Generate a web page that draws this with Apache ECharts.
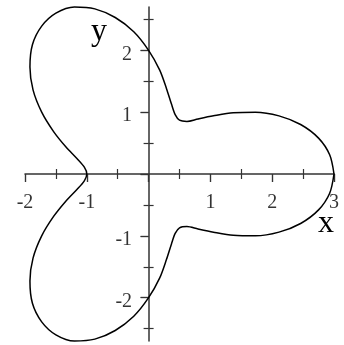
<!DOCTYPE html>
<html>
<head>
<meta charset="utf-8">
<script src="https://cdn.jsdelivr.net/npm/echarts@6/dist/echarts.min.js"></script>
<style>
  html, body { margin: 0; padding: 0; background: #fff; }
  #chart { width: 344px; height: 345px; }
</style>
</head>
<body>
<div id="chart"></div>
<script>
// curve points, going round once from (3, 0)
const curveX = [3.00, 2.93, 2.75, 2.46, 2.11, 1.73, 1.37, 1.05, 0.80, 0.62, 0.50, 0.43, 0.37, 0.29, 0.18, 0.00,
  -0.24, -0.54, -0.87, -1.20, -1.50, -1.73, -1.88, -1.92, -1.87, -1.73, -1.54, -1.34, -1.16, -1.04, -1.00,
  -1.04, -1.16, -1.34, -1.54, -1.73, -1.87, -1.92, -1.88, -1.73, -1.50, -1.20, -0.87, -0.54, -0.24, 0.00,
  0.18, 0.29, 0.37, 0.43, 0.50, 0.62, 0.80, 1.05, 1.37, 1.73, 2.11, 2.46, 2.75, 2.93, 3.00]
const curveY = [0.00, 0.31, 0.58, 0.80, 0.94, 1.00, 0.99, 0.94, 0.89, 0.85, 0.87, 0.96, 1.13, 1.38, 1.68, 2.00,
  2.30, 2.53, 2.67, 2.70, 2.60, 2.39, 2.09, 1.73, 1.36, 1.00, 0.69, 0.44, 0.25, 0.11, 0.00,
  -0.11, -0.25, -0.44, -0.69, -1.00, -1.36, -1.73, -2.09, -2.39, -2.60, -2.70, -2.67, -2.53, -2.30, -2.00,
  -1.68, -1.38, -1.13, -0.96, -0.87, -0.85, -0.89, -0.94, -0.99, -1.00, -0.94, -0.80, -0.58, -0.31, 0.00]

const xMajorTicks = [-2, -1, 0, 1, 2, 3]
const xMinorTicks = [-1.5, -0.5, 0.5, 1.5, 2.5]
const xTickLabels = [-2, -1, 1, 2, 3]
const yMajorTicks = [-2, -1, 0, 1, 2]
const yMinorTicks = [-2.5, -1.5, -0.5, 0.5, 1.5, 2.5]
const yTickLabels = [-2, -1, 1, 2]

const axisColor = '#333'
const labelFont = 'Liberation Serif'

// one axis per tick kind and side, so the ticks cross the line
function makeAxis(min, max, ticks, len, inside, showLine) {
  return {
    type: 'value',
    min: min,
    max: max,
    axisLine: {
      show: showLine,
      onZero: true,
      onZeroAxisIndex: 0,
      lineStyle: { color: axisColor, width: 1.5 },
    },
    axisTick: {
      show: true,
      inside: inside,
      length: len,
      customValues: ticks,
      lineStyle: { color: axisColor, width: 1.2 },
    },
    axisLabel: { show: false },
    splitLine: { show: false },
  }
}

// tick labels sit on the zero lines, so they are hung on invisible points there
function tickLabels(points, position, distance, offset, idx) {
  return {
    type: 'scatter',
    data: points,
    symbolSize: 1,
    itemStyle: { color: 'rgba(0,0,0,0)' },
    clip: false,
    silent: true,
    label: {
      show: true,
      position: position,
      distance: distance,
      offset: offset,
      formatter: (p) => String(p.value[idx]),
      color: '#000',
      fontFamily: labelFont,
      fontSize: 20,
    },
  }
}

let chartDom = echarts.init(document.getElementById('chart'))
let option = {
  animation: false,
  backgroundColor: '#fff',
  grid: {
    left: 25,
    right: 10,
    top: 7,
    bottom: 4,
    containLabel: false,
    outerBoundsMode: 'none',
  },
  xAxis: [
    makeAxis(-2, 3, xMajorTicks, 8, false, true),
    makeAxis(-2, 3, xMajorTicks, 8, true, false),
    makeAxis(-2, 3, xMinorTicks, 5, false, false),
    makeAxis(-2, 3, xMinorTicks, 5, true, false),
  ],
  yAxis: [
    makeAxis(-2.7, 2.7, yMajorTicks, 8, false, true),
    makeAxis(-2.7, 2.7, yMajorTicks, 8, true, false),
    makeAxis(-2.7, 2.7, yMinorTicks, 5, false, false),
    makeAxis(-2.7, 2.7, yMinorTicks, 5, true, false),
  ],
  graphic: [
    {
      type: 'text',
      left: 318,
      top: 208,
      style: { text: 'x', font: '32px "Liberation Serif"', fill: '#000' },
    },
    {
      type: 'text',
      left: 91,
      top: 16,
      style: { text: 'y', font: '32px "Liberation Serif"', fill: '#000' },
    },
  ],
  series: [
    {
      type: 'line',
      data: curveX.map((x, i) => [x, curveY[i]]),
      showSymbol: false,
      smooth: 0.3,
      clip: false,
      lineStyle: { color: '#000', width: 1.5 },
      z: 5,
    },
    tickLabels(xTickLabels.map((v) => [v, 0]), 'bottom', 18, [0, 0], 0),
    tickLabels(yTickLabels.map((v) => [0, v]), 'left', 16, [0, 4], 1),
  ],
}
chartDom.setOption(option)
</script>
</body>
</html>
